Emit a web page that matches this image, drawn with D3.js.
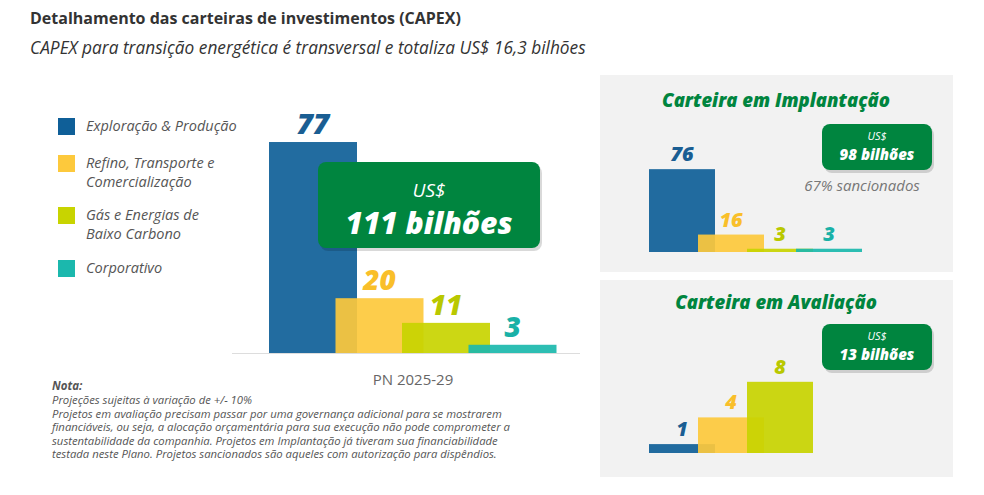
<!DOCTYPE html>
<html><head><meta charset="utf-8">
<script src="https://cdn.jsdelivr.net/npm/d3@7"></script>
<style>body{margin:0;background:#fff;font-family:"Open Sans",sans-serif;}</style>
</head><body><div id="chart"></div>
<script>
var categories = ["Exploração & Produção", "Refino, Transporte e Comercialização", "Gás e Energias de Baixo Carbono", "Corporativo"];
var legendLines = [["Exploração & Produção"], ["Refino, Transporte e", "Comercialização"], ["Gás e Energias de", "Baixo Carbono"], ["Corporativo"]];
var colors = ["#0f5f98", "#fdc93c", "#c8d400", "#1bb8ad"];
var labelColors = ["#1a5e93", "#f9bf2a", "#b9c800", "#19b1a7"];
var totalValues = [77, 20, 11, 3];
var implantValues = [76, 16, 3, 3];
var avalValues = [1, 4, 8, 0];
var green = "#00853f";

var svg = d3.select("#chart").append("svg").attr("width", 984).attr("height", 495);

svg.append("text").attr("x", 30).attr("y", 24).attr("font-weight", 700).attr("font-size", 16).attr("fill", "#333")
  .text("Detalhamento das carteiras de investimentos (CAPEX)");
svg.append("text").attr("x", 30).attr("y", 54).attr("font-style", "italic").attr("font-size", 17.3).attr("fill", "#333")
  .text("CAPEX para transição energética é transversal e totaliza US$ 16,3 bilhões");

// legend
var legY = [126, 163, 215, 268];
legendLines.forEach(function(lines, i) {
  svg.append("rect").attr("x", 58).attr("y", legY[i] - 8).attr("width", 17).attr("height", 17).attr("fill", colors[i]);
  lines.forEach(function(l, j) {
    svg.append("text").attr("x", 86).attr("y", legY[i] + 5 + j * 19).attr("font-style", "italic")
      .attr("font-size", 14.5).attr("fill", "#555").text(l);
  });
});

function bars(g, values, x0, step, w, base, pxPerUnit, fontSize, skipZero) {
  var y = d3.scaleLinear().domain([0, 1]).range([base, base - pxPerUnit]);
  var x = d3.scaleLinear().domain([0, 1]).range([x0, x0 + step]);
  values.forEach(function(v, i) {
    if (skipZero && v === 0) return;
    var top = y(v);
    g.append("rect").attr("x", x(i)).attr("y", top).attr("width", w).attr("height", Math.max(base - top, 2))
      .attr("fill", colors[i]).attr("opacity", 0.92);
    g.append("text").attr("x", x(i) + w / 2).attr("y", Math.min(top, base - 2) - 8).attr("text-anchor", "middle")
      .attr("font-weight", 800).attr("font-style", "italic").attr("font-size", fontSize)
      .attr("fill", labelColors[i]).text(v);
  });
}

function greenBox(x, y, w, h, small, big, s1, s2, dy1, dy2) {
  svg.append("rect").attr("x", x + 2).attr("y", y + 3).attr("width", w).attr("height", h).attr("rx", 8).attr("fill", "#000").attr("opacity", 0.15);
  svg.append("rect").attr("x", x).attr("y", y).attr("width", w).attr("height", h).attr("rx", 8).attr("fill", green);
  svg.append("text").attr("x", x + w / 2).attr("y", y + dy1).attr("text-anchor", "middle").attr("fill", "#fff")
    .attr("font-style", "italic").attr("font-size", s1).text(small);
  svg.append("text").attr("x", x + w / 2).attr("y", y + dy2).attr("text-anchor", "middle").attr("fill", "#fff")
    .attr("font-style", "italic").attr("font-weight", 800).attr("font-size", s2).text(big);
}

// main chart
var main = svg.append("g");
main.append("line").attr("x1", 232).attr("x2", 580).attr("y1", 353.5).attr("y2", 353.5).attr("stroke", "#ddd");
bars(main, totalValues, 269, 66.5, 88, 353, 2.74, 28, false);
greenBox(318, 162, 222, 86, "US$", "111 bilhões", 19, 30, 35, 72);
svg.append("text").attr("x", 413).attr("y", 385).attr("text-anchor", "middle").attr("font-size", 15).attr("fill", "#666").text("PN 2025-29");

// panels
svg.append("rect").attr("x", 600).attr("y", 75).attr("width", 353).attr("height", 197).attr("fill", "#f2f2f2");
svg.append("rect").attr("x", 600).attr("y", 280).attr("width", 353).attr("height", 197).attr("fill", "#f2f2f2");
svg.append("text").attr("x", 776).attr("y", 107).attr("text-anchor", "middle").attr("font-weight", 800).attr("font-style", "italic")
  .attr("font-size", 18.5).attr("fill", green).text("Carteira em Implantação");
svg.append("text").attr("x", 776).attr("y", 309).attr("text-anchor", "middle").attr("font-weight", 800).attr("font-style", "italic")
  .attr("font-size", 18.5).attr("fill", green).text("Carteira em Avaliação");

var p1 = svg.append("g");
bars(p1, implantValues, 649, 49, 66, 252, 1.09, 20, false);
greenBox(822, 124, 110, 46, "US$", "98 bilhões", 11, 15, 16, 36);
svg.append("text").attr("x", 862).attr("y", 191).attr("text-anchor", "middle").attr("font-style", "italic")
  .attr("font-size", 15).attr("fill", "#777").text("67% sancionados");

var p2 = svg.append("g");
bars(p2, avalValues, 649, 49, 66, 453, 8.9, 20, true);
greenBox(822, 324, 110, 46, "US$", "13 bilhões", 11, 15, 16, 36);

// note
var notes = ["Projeções sujeitas à variação de +/- 10%",
  "Projetos em avaliação precisam passar por uma governança adicional para se mostrarem",
  "financiáveis, ou seja, a alocação orçamentária para sua execução não pode comprometer a",
  "sustentabilidade da companhia. Projetos em Implantação já tiveram sua financiabilidade",
  "testada neste Plano. Projetos sancionados são aqueles com autorização para dispêndios."];
svg.append("text").attr("x", 52).attr("y", 390).attr("font-weight", 700).attr("font-style", "italic").attr("font-size", 11.5).attr("fill", "#555").text("Nota:");
notes.forEach(function(n, i) {
  svg.append("text").attr("x", 52).attr("y", 404 + i * 13.5).attr("font-style", "italic").attr("font-size", 11.3).attr("fill", "#555").text(n);
});
</script></body></html>
